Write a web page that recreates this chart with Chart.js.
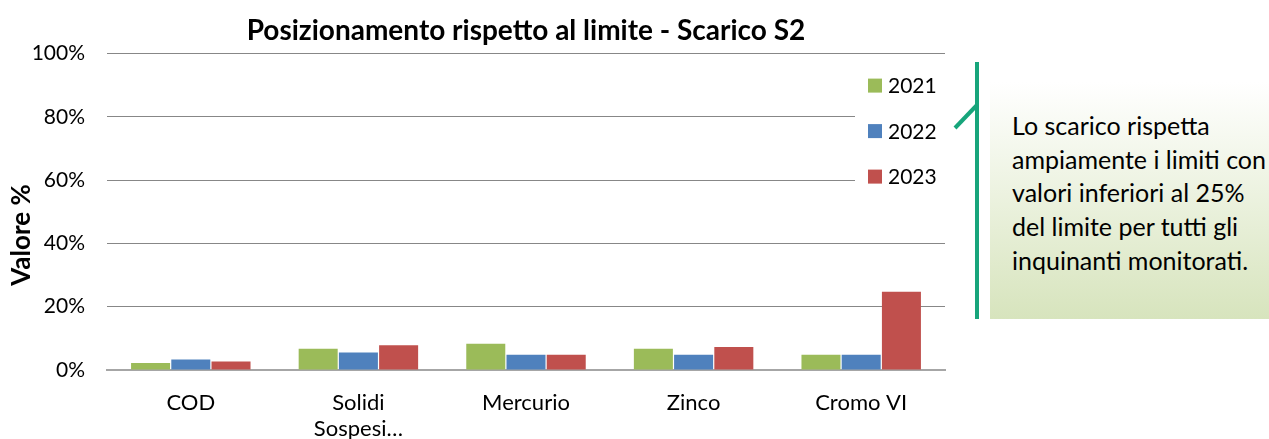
<!DOCTYPE html>
<html lang="it">
  <head>
  <meta charset="utf-8">
  <title>Posizionamento rispetto al limite - Scarico S2</title>
  <script src="https://cdn.jsdelivr.net/npm/chart.js@4.4.1/dist/chart.umd.min.js"></script>
  <style>
    body{
      margin: 0;
      background: #fff;
    }
    #wrap{
      position: relative;
      width: 1269px;
      height: 439px;
      overflow: hidden;
    }
    #chart_box{
      position: absolute;
      left: 0;
      top: 0;
      width: 1060px;
      height: 439px;
    }
    #nota{
      position: absolute;
      left: 990px;
      top: 82px;
      width: 279px;
      height: 237px;
      box-sizing: border-box;
      padding: 27px 0 0 22px;
      background: linear-gradient(#ffffff, #d7e4bd);
      font-family: Lato, sans-serif;
      font-size: 25px;
      line-height: 33.7px;
      color: #000;
      white-space: nowrap;
    }
    #staffa{
      position: absolute;
      left: 940px;
      top: 50px;
    }
  </style>
  </head>
  <body>
    <div id="wrap">
      <div id="chart_box"><canvas id="myChart"></canvas></div>
      <svg id="staffa" width="50" height="280">
        <line x1="37" y1="12" x2="37" y2="269" stroke="#17a57b" stroke-width="4"/>
        <line x1="15" y1="78" x2="37" y2="55" stroke="#17a57b" stroke-width="4"/>
      </svg>
      <div id="nota">Lo scarico rispetta<br>ampiamente i limiti con<br>valori inferiori al 25%<br>del limite per tutti gli<br>inquinanti monitorati.</div>
    </div>
  <script>
    // dati
    const categorie = ["COD", ["Solidi", "Sospesi…"], "Mercurio", "Zinco", "Cromo VI"];
    const anni = ["2021", "2022", "2023"];
    const valori2021 = [2.2, 6.7, 8.3, 6.7, 4.8];
    const valori2022 = [3.3, 5.5, 4.8, 4.8, 4.8];
    const valori2023 = [2.7, 7.8, 4.8, 7.3, 24.7];
    const colori = ["#9bbb59", "#4f81bd", "#c0504d"];
    const tickY = [0, 20, 40, 60, 80, 100];
    const titoloY = "Valore %";

    const font = "Lato, sans-serif";

    // legenda dentro l'area del grafico, con fondo bianco sopra la griglia
    const legendaInterna = {
      id: "legendaInterna",
      afterDatasetsDraw(chart){
        const ctx = chart.ctx;
        const a = chart.chartArea;
        ctx.save();
        ctx.fillStyle = "#fff";
        ctx.fillRect(a.right - 90, a.top + 8, 91, 140);
        ctx.font = "21px " + font;
        ctx.textBaseline = "middle";
        chart.data.datasets.forEach((ds, i) => {
          const y = a.top + 32 + i * 45.5;
          ctx.fillStyle = ds.backgroundColor;
          ctx.fillRect(a.right - 77, y - 7, 14, 14);
          ctx.fillStyle = "#000";
          ctx.fillText(ds.label, a.right - 57, y + 1);
        });
        ctx.restore();
      }
    };

    // titolo asse y (in Excel sta un po' sotto il centro dell'asse)
    const titoloAsseY = {
      id: "titoloAsseY",
      afterDraw(chart){
        const ctx = chart.ctx;
        ctx.save();
        ctx.translate(22, 235);
        ctx.rotate(-Math.PI / 2);
        ctx.font = "bold 26px " + font;
        ctx.fillStyle = "#000";
        ctx.textAlign = "center";
        ctx.textBaseline = "middle";
        ctx.fillText(titoloY, 0, 0);
        ctx.restore();
      }
    };

    const data = {
      labels: categorie,
      datasets: [
        { label: anni[0], data: valori2021, backgroundColor: colori[0] },
        { label: anni[1], data: valori2022, backgroundColor: colori[1] },
        { label: anni[2], data: valori2023, backgroundColor: colori[2] }
      ]
    };

    const config = {
      type: "bar",
      data: data,
      plugins: [legendaInterna, titoloAsseY],
      options: {
        responsive: true,
        maintainAspectRatio: false,
        animation: false,
        layout: { padding: { left: 0, right: 115, top: 0, bottom: 0 } },
        datasets: {
          bar: { categoryPercentage: 0.72, barPercentage: 0.97 }
        },
        plugins: {
          legend: { display: false },
          tooltip: { enabled: false },
          title: {
            display: true,
            fullSize: false,
            text: "Posizionamento rispetto al limite - Scarico S2",
            color: "#000",
            font: { family: font, size: 28, weight: "bold", lineHeight: 1.2 },
            padding: { top: 14, bottom: 6 }
          }
        },
        scales: {
          x: {
            grid: { display: false, drawTicks: false },
            border: { color: "#a6a6a6", width: 2 },
            afterFit(scale){ scale.height = 69; },
            ticks: {
              color: "#000",
              font: { family: font, size: 22, lineHeight: 1.22 },
              padding: 19,
              maxRotation: 0
            }
          },
          y: {
            min: 0,
            max: 100,
            afterBuildTicks(scale){
              scale.ticks = tickY.map(v => ({ value: v }));
            },
            afterFit(scale){ scale.width = 107; },
            grid: { color: "#878787", drawTicks: false },
            border: { display: false },
            ticks: {
              color: "#000",
              font: { family: font, size: 21 },
              padding: 22,
              callback: v => v + "%"
            }
          }
        }
      }
    };

    const myChart = new Chart(document.getElementById("myChart"), config);
  </script>
  </body>
</html>
